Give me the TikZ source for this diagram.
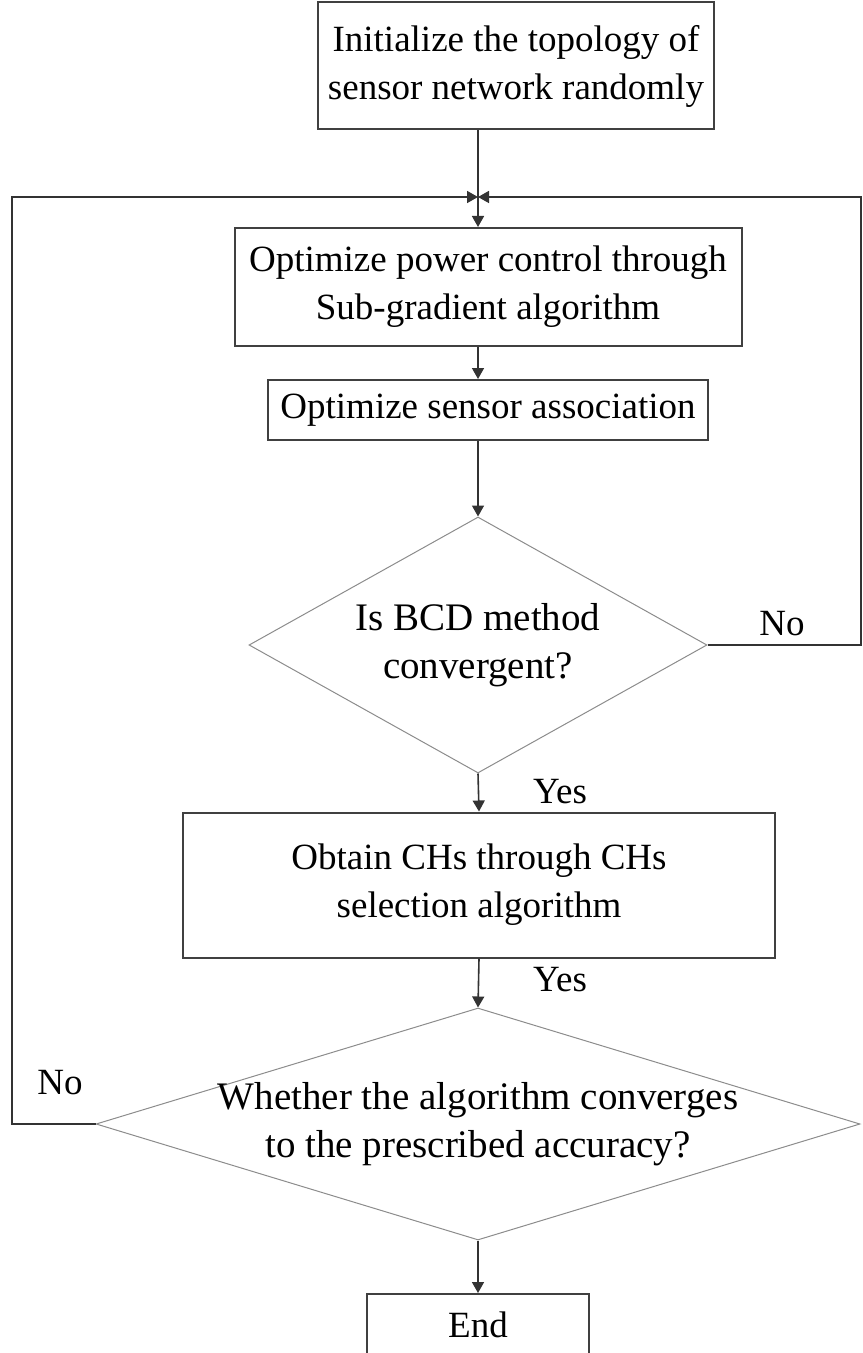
\documentclass[tikz,border=0pt]{standalone}
\usepackage{fontspec}
\setmainfont{Liberation Serif}
\usetikzlibrary{shapes.geometric, arrows.meta, positioning, calc}
\tikzset{
  %% Process box
  pbox/.style={
    rectangle, draw=black!75, fill=white,
    align=center, inner sep=0pt, line width=1pt
  },
  %% Decision diamond (text goes in a centre label)
  dec/.style={
    diamond, draw=black!45, fill=white,
    inner sep=0pt, line width=0.5pt
  },
  %% Arrow
  arr/.style={-{Triangle[length=5.5pt,width=6pt]},
              draw=black!80, line width=0.8pt},
  %% Text sizes
  txt/.style={font=\fontsize{18.5}{24}\selectfont},
  dtxt/.style={font=\fontsize{19.5}{24}\selectfont},
}

\begin{document}
\begin{tikzpicture}[x=0.5pt, y=-0.5pt,
                    every node/.style={txt},
                    every label/.style={dtxt, align=center}]
  \useasboundingbox (0,0) rectangle (862,1353);

  %% Process steps
  \node[pbox, minimum width=198pt, minimum height=63.5pt] (init) at (516,66)
       {Initialize the topology of\\sensor network randomly};
  \node[pbox, minimum width=253.5pt, minimum height=59pt] (power) at (488,287)
       {Optimize power control through\\Sub-gradient algorithm};
  \node[pbox, minimum width=220pt, minimum height=30pt] (assoc) at (488,410)
       {Optimize sensor association};
  \node[dec, minimum width=229pt, minimum height=128pt,
        label={center:Is BCD method\\convergent?}] (bcd) at (478,645) {};
  \node[pbox, minimum width=296pt, minimum height=72.5pt] (chs) at (479,885)
       {Obtain CHs through CHs\\selection algorithm};
  \node[dec, minimum width=382pt, minimum height=116pt,
        label={center:Whether the algorithm converges\\to the prescribed accuracy?}]
       (acc) at (478,1124) {};
  \node[pbox, minimum width=111pt, minimum height=31pt] (stop) at (478,1325)
       {End};

  %% Loop-back points
  \coordinate (m)   at (478,197);
  \coordinate (lft) at (12,197);
  \coordinate (rgt) at (861,197);

  %% Main flow
  \draw[arr] (init.south -| m) -- (power.north -| m);
  \draw[arr] (power.south -| m) -- (assoc.north -| m);
  \draw[arr] (assoc.south -| m) -- (bcd.north);
  \draw[arr] (bcd.south) -- (chs.north);
  \draw[arr] (chs.south) -- (acc.north);
  \draw[arr] (acc.south) -- (stop.north);

  %% Feedback loops
  \draw[arr] (bcd.east) -| (rgt) -- (m);
  \draw[arr] (acc.west) -| (lft) -- (m);

  %% Branch labels
  \node (yes1) at (560,792)  {Yes};
  \node (yes2) at (560,980)  {Yes};
  \node (no1)  at (782,624)  {No};
  \node (no2)  at (60,1083)  {No};

\end{tikzpicture}
\end{document}
